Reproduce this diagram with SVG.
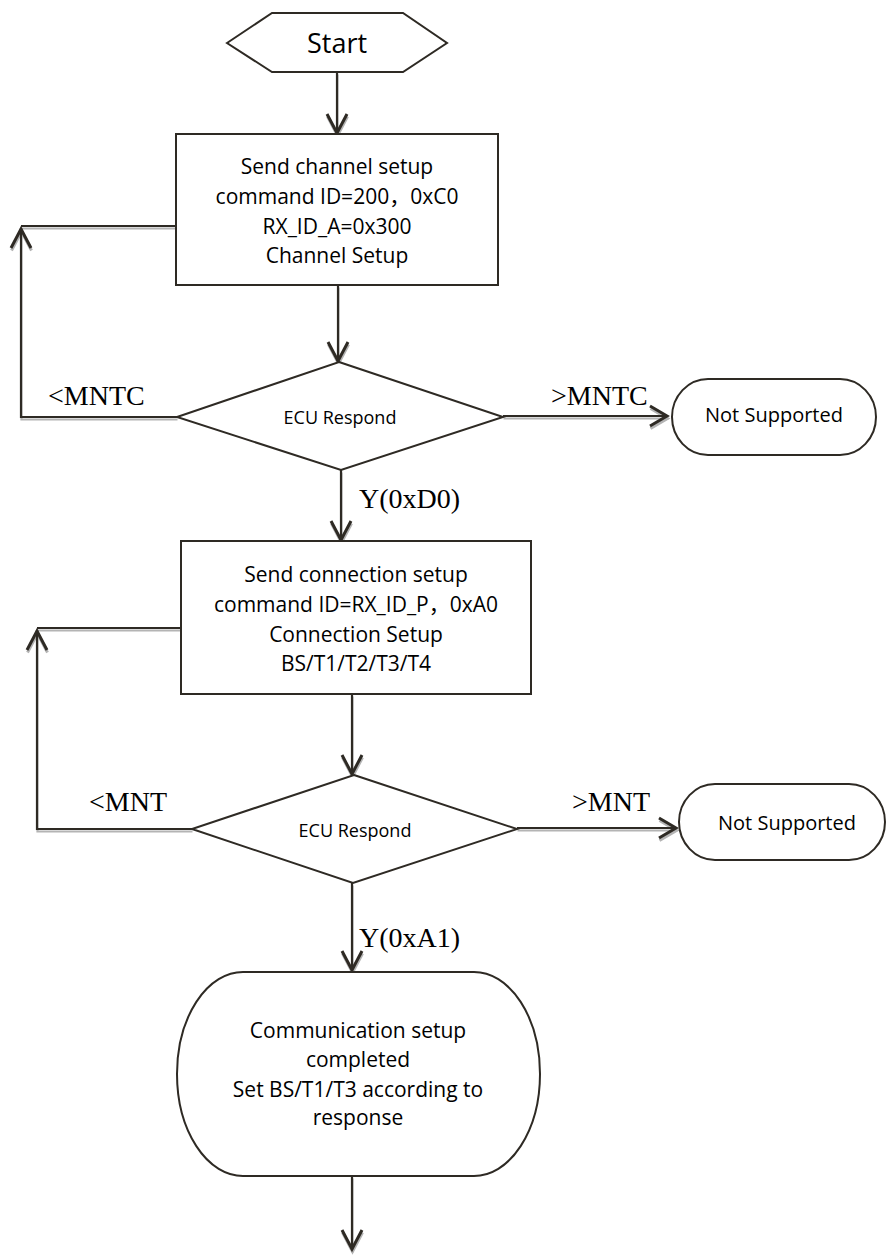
<svg xmlns="http://www.w3.org/2000/svg" xmlns:xlink="http://www.w3.org/1999/xlink" width="892" height="1255" viewBox="0 0 892 1255">
  <style>
    .shape { fill: #ffffff; stroke: #2e2a24; stroke-width: 2; }
    .label { font-family: "Open Sans", "Liberation Sans", "Noto Sans CJK SC", sans-serif; fill: #000; text-anchor: middle; }
    .node-text { font-size: 21px; }
    .small { font-size: 18px; }
    .mid { font-size: 20px; }
    .edge-label { font-family: "Liberation Serif", "Times New Roman", serif; font-size: 28px; fill: #000; }
    .wire { fill: none; stroke-width: 2.2; stroke-linecap: butt; stroke-linejoin: miter; }
    .head { stroke-width: 3; }
  </style>

  <defs>
    <!-- every connector line and chevron head, drawn once and reused for the drop shadow -->
    <g id="wires">
      <!-- Start -> channel setup -->
      <path d="M337,72 V134"/><path class="head" d="M327,114 L337,133 L347,114"/>
      <!-- channel setup -> respond 1 -->
      <path d="M338,285 V362"/><path class="head" d="M328,342 L338,361 L348,342"/>
      <!-- respond 1 -> connection setup -->
      <path d="M341,470 V541"/><path class="head" d="M331,521 L341,540 L351,521"/>
      <!-- connection setup -> respond 2 -->
      <path d="M352,694 V775"/><path class="head" d="M342,755 L352,774 L362,755"/>
      <!-- respond 2 -> completed -->
      <path d="M352,883 V971"/><path class="head" d="M342,951 L352,970 L362,951"/>
      <!-- completed -> onward -->
      <path d="M352,1176 V1250"/><path class="head" d="M342,1230 L352,1249 L362,1230"/>
      <!-- retry loop 1 -->
      <path d="M177,417 H21 V228 M21,226 H181"/><path class="head" d="M11,248 L21,229 L31,248"/>
      <!-- retry loop 2 -->
      <path d="M192,829 H37 V630 M37,628 H181"/><path class="head" d="M27,650 L37,631 L47,650"/>
      <!-- not supported exits -->
      <path d="M503,416 H668"/><path class="head" d="M650,406 L667,416 L650,426"/>
      <path d="M517,828 H677"/><path class="head" d="M659,818 L676,828 L659,838"/>
    </g>
  </defs>

  <g id="connectors">
    <use xlink:href="#wires" href="#wires" class="wire" stroke="#b4b4b4" transform="translate(0.5,2.5)"/>
    <use xlink:href="#wires" href="#wires" class="wire" stroke="#2e2a24"/>
  </g>

  <g id="start">
    <polygon class="shape" points="227,43 272,13 403,13 447,43 403,72 272,72"/>
    <text class="label" x="337" y="53" font-size="27">Start</text>
  </g>

  <g id="channel-setup">
    <rect class="shape" x="176" y="134" width="322" height="151"/>
    <text class="label node-text" x="337" y="174">Send channel setup</text>
    <text class="label node-text" x="337" y="204">command ID=200，0xC0</text>
    <text class="label node-text" x="337" y="234">RX_ID_A=0x300</text>
    <text class="label node-text" x="337" y="263">Channel Setup</text>
  </g>

  <g id="respond-1">
    <polygon class="shape" points="339,362 503,417 341,470 177,417"/>
    <text class="label small" x="340" y="424">ECU Respond</text>
  </g>

  <g id="not-supported-1">
    <rect class="shape" x="672" y="379" width="204" height="76" rx="36" ry="38"/>
    <text class="label mid" x="774" y="422">Not Supported</text>
  </g>

  <g id="connection-setup">
    <rect class="shape" x="181" y="541" width="350" height="153"/>
    <text class="label node-text" x="356" y="582">Send connection setup</text>
    <text class="label node-text" x="356" y="612">command ID=RX_ID_P，0xA0</text>
    <text class="label node-text" x="356" y="642">Connection Setup</text>
    <text class="label node-text" x="356" y="671">BS/T1/T2/T3/T4</text>
  </g>

  <g id="respond-2">
    <polygon class="shape" points="354,775 517,829 353,883 192,829"/>
    <text class="label small" x="355" y="837">ECU Respond</text>
  </g>

  <g id="not-supported-2">
    <rect class="shape" x="679" y="784" width="206" height="76" rx="36" ry="38"/>
    <text class="label mid" x="787" y="830">Not Supported</text>
  </g>

  <g id="completed">
    <rect class="shape" x="177" y="972" width="363" height="204" rx="66" ry="102"/>
    <text class="label node-text" x="358" y="1038">Communication setup</text>
    <text class="label node-text" x="358" y="1067">completed</text>
    <text class="label node-text" x="358" y="1097">Set BS/T1/T3 according to</text>
    <text class="label node-text" x="358" y="1125">response</text>
  </g>

  <g id="edge-labels">
    <text class="edge-label" x="48" y="405">&lt;MNTC</text>
    <text class="edge-label" x="551" y="405">&gt;MNTC</text>
    <text class="edge-label" x="359" y="508">Y(0xD0)</text>
    <text class="edge-label" x="89" y="811">&lt;MNT</text>
    <text class="edge-label" x="572" y="811">&gt;MNT</text>
    <text class="edge-label" x="359" y="947">Y(0xA1)</text>
  </g>
</svg>
